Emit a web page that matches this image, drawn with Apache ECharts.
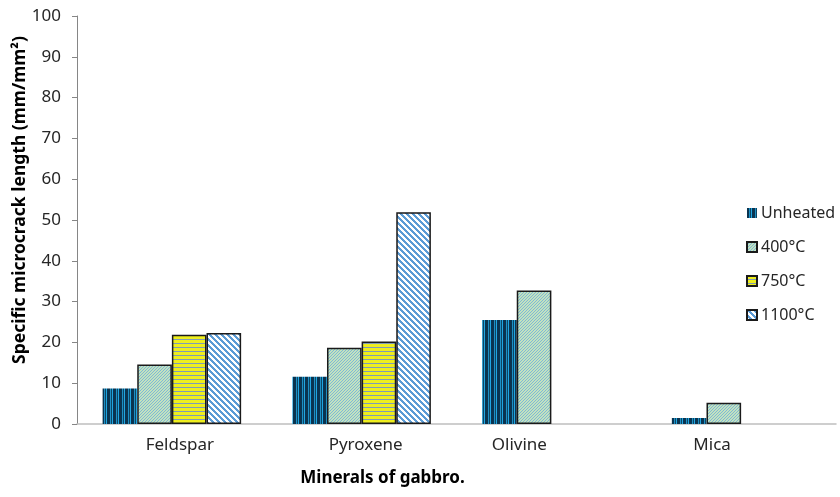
<!DOCTYPE html>
<html>
<head>
<meta charset="utf-8">
<script src="https://cdn.jsdelivr.net/npm/echarts@6/dist/echarts.min.js"></script>
<style>
  html, body { margin: 0; padding: 0; background: #fff; }
  #chart { width: 840px; height: 497px; }
</style>
</head>
<body>
<div id="chart"></div>
<script>
// data
const minerals = ["Feldspar", "Pyroxene", "Olivine", "Mica"];
const unheated = [8.7, 11.6, 25.5, 1.5];
const t400 = [14.6, 18.7, 32.7, 5.2];
const t750 = [21.9, 20.2, "-", "-"];
const t1100 = [22.3, 51.9, "-", "-"];
const seriesNames = ["Unheated", "400°C", "750°C", "1100°C"];

// small canvases used as fill patterns (Excel-like hatch)
function makePattern(w, h, pix) {
  const c = document.createElement("canvas");
  c.width = w;
  c.height = h;
  const ctx = c.getContext("2d");
  for (let y = 0; y < h; y++) {
    for (let x = 0; x < w; x++) {
      ctx.fillStyle = pix(x, y);
      ctx.fillRect(x, y, 1, 1);
    }
  }
  return { image: c, repeat: "repeat" };
}

const colUnheated = ["#0a3450", "#0a3450", "#1d8fc4", "#0e4562", "#20a6e2", "#0a3450"];
const patUnheated = makePattern(6, 1, (x) => colUnheated[x]);
const pat400 = makePattern(3, 3, (x, y) => (x + y) % 3 === 2 ? "#80b8d4" : "#c2e2c0");
const pat750 = makePattern(1, 4, (x, y) => y === 3 ? "#7f9cb6" : "#eeee1e");
const pat1100 = makePattern(6, 6, (x, y) => ((x - y + 12) % 6) < 3 ? "#5b9bd5" : "#ffffff");

// labels in the source sit a bit off the category centres
const labelPad = [[0, 0, 0, 16], [0, 0, 0, 8], [0, 64, 0, 0], [0, 58, 0, 0]];
const rich = {};
labelPad.forEach((p, i) => {
  rich["c" + i] = { padding: p, fontSize: 17, color: "#262626", fontFamily: "Noto Sans" };
});

const chart = echarts.init(document.getElementById("chart"));
const border = { borderColor: "#1a1a1a", borderWidth: 1.5 };

chart.setOption({
  animation: false,
  textStyle: { fontFamily: "Noto Sans" },
  grid: { left: 77, right: 4, top: 16, bottom: 73, outerBoundsMode: "none" },
  legend: {
    orient: "vertical",
    left: 741,
    top: 200,
    itemWidth: 10,
    itemHeight: 10,
    itemGap: 18,
    icon: "rect",
    textStyle: { fontSize: 16, color: "#262626", padding: [0, 0, 0, -1] },
    data: seriesNames
  },
  xAxis: {
    type: "category",
    data: minerals,
    axisLine: { lineStyle: { color: "#bfbfbf", width: 1.5 } },
    axisTick: { show: false },
    axisLabel: {
      margin: 13,
      formatter: (v, i) => "{c" + i + "|" + v + "}",
      rich: rich
    },
    name: "Minerals of gabbro.",
    nameLocation: "middle",
    nameGap: 46,
    nameMoveOverlap: false,
    nameTextStyle: { fontSize: 17, fontWeight: "bold", color: "#000", padding: [0, 148, 0, 0] }
  },
  yAxis: {
    type: "value",
    min: 0,
    max: 100,
    interval: 10,
    splitLine: { show: false },
    axisLine: { show: true, lineStyle: { color: "#868686" } },
    axisTick: { show: true, length: 5, lineStyle: { color: "#868686" } },
    axisLabel: { fontSize: 17, color: "#262626", margin: 16 },
    name: "Specific microcrack length (mm/mm²)",
    nameLocation: "middle",
    nameGap: 48,
    nameMoveOverlap: false,
    nameTextStyle: { fontSize: 17.5, fontWeight: "bold", color: "#000", padding: [0, 0, 0, 40] }
  },
  series: [
    { name: seriesNames[0], type: "bar", data: unheated, barGap: "0%", barCategoryGap: "27%",
      itemStyle: { color: patUnheated } },
    { name: seriesNames[1], type: "bar", data: t400, itemStyle: Object.assign({ color: pat400 }, border) },
    { name: seriesNames[2], type: "bar", data: t750, itemStyle: Object.assign({ color: pat750 }, border) },
    { name: seriesNames[3], type: "bar", data: t1100, itemStyle: Object.assign({ color: pat1100 }, border) }
  ]
});
</script>
</body>
</html>
